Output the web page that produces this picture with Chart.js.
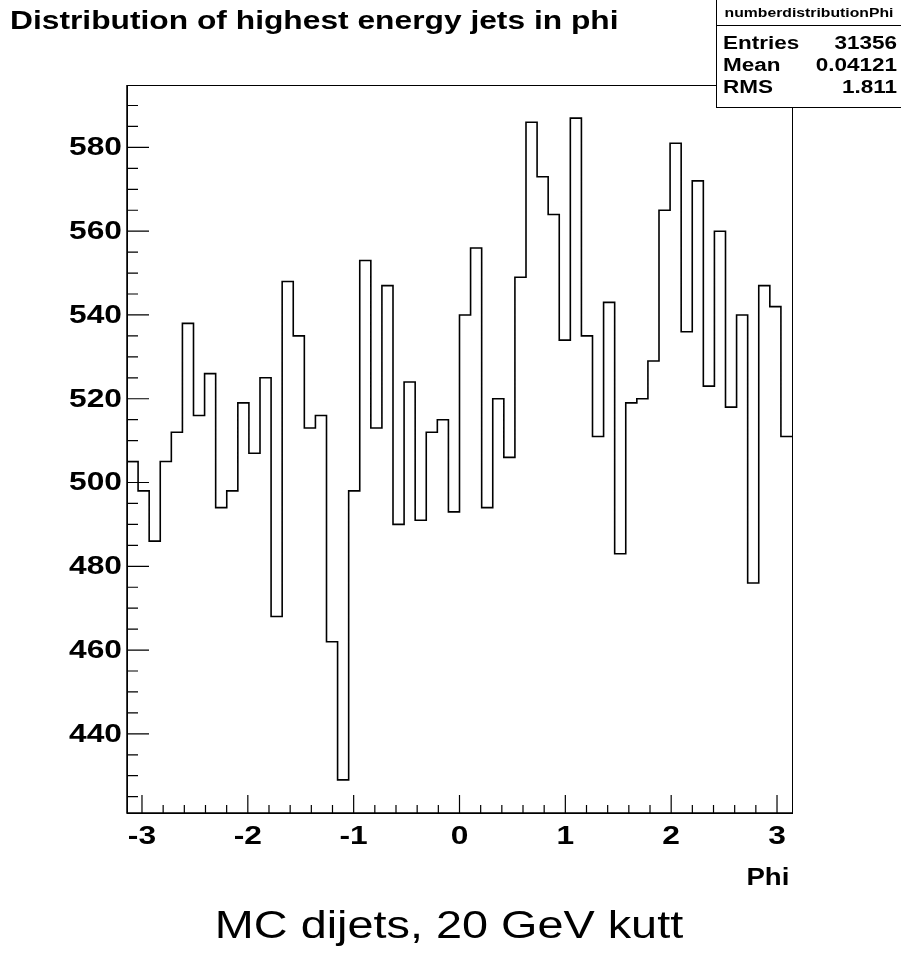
<!DOCTYPE html>
<html>
<head>
<meta charset="utf-8">
<script src="https://cdn.jsdelivr.net/npm/chart.js@4"></script>
<style>
  body { margin: 0; background: #fff; }
  #wrap { position: relative; width: 901px; height: 953px; font-family: 'Liberation Sans', Arial, sans-serif; }
  #c { position: absolute; left: 0; top: 0; }
  .t { position: absolute; white-space: nowrap; color: #000; line-height: 1; }
  #title { left: 10px; top: 8px; font-weight: bold; font-size: 25px; transform: scaleX(1.27); transform-origin: 0 50%; }
  #stats { position: absolute; left: 716px; top: 0; width: 184px; height: 107px; border: 1px solid #000; border-top: none; background: #fff; }
  #stats .hdr { position: absolute; left: 0; right: 0; top: 0; height: 25px; border-bottom: 1px solid #000; }
  #stats .hdr div { position: absolute; left: 0; right: 0; top: 7px; text-align: center; font-weight: bold; font-size: 12.6px; transform: scaleX(1.25); }
  #stats .l, #stats .v { position: absolute; font-weight: bold; font-size: 18px; transform: scaleX(1.25); }
  #stats .l { left: 6px; transform-origin: 0 50%; }
  #stats .v { right: 4px; transform-origin: 100% 50%; }
  #phi { right: 112px; top: 865px; font-weight: bold; font-size: 24px; transform: scaleX(1.15); transform-origin: 100% 50%; }
  #caption { left: 0; width: 898px; text-align: center; top: 906px; font-size: 38.7px; transform: scaleX(1.21); }
</style>
</head>
<body>
<div id="wrap">
  <canvas id="c" width="901" height="953"></canvas>
  <div class="t" id="title">Distribution of highest energy jets in phi</div>
  <div id="stats">
    <div class="hdr"><div class="t">numberdistributionPhi</div></div>
    <div class="t l" style="top:34px">Entries</div><div class="t v" style="top:34px">31356</div>
    <div class="t l" style="top:56px">Mean</div><div class="t v" style="top:56px">0.04121</div>
    <div class="t l" style="top:78px">RMS</div><div class="t v" style="top:78px">1.811</div>
  </div>
  <div class="t" id="phi">Phi</div>
  <div class="t" id="caption">MC dijets, 20 GeV kutt</div>
</div>
<script>
// 60 bins in phi from -pi to pi
var phiMin = -Math.PI;
var phiMax = Math.PI;
var counts = [
    505, 498, 486, 505, 512, 538, 516, 526, 494, 498,
    519, 507, 525, 468, 548, 535, 513, 516, 462, 429,
    498, 553, 513, 547, 490, 524, 491, 512, 515, 493,
    540, 556, 494, 520, 506, 549, 586, 573, 564, 534,
    587, 535, 511, 543, 483, 519, 520, 529, 565, 581,
    536, 572, 523, 560, 518, 540, 476, 547, 542, 511
];
var xTicks = [-3, -2, -1, 0, 1, 2, 3];
var yTicks = [440, 460, 480, 500, 520, 540, 560, 580];
var yMin = 421.1;
var yMax = 594.9;

var binWidth = (phiMax - phiMin) / counts.length;
var points = counts.map(function (v, i) {
    return { x: phiMin + i * binWidth, y: v };
});
points.push({ x: phiMax, y: counts[counts.length - 1] });

var labelFont = "bold 25px 'Liberation Sans', Arial, sans-serif";
var stretch = 1.27; // the labels in the picture are wide

// ROOT style frame, inward ticks and stretched tick labels
var frame = {
    id: 'frame',
    afterDatasetsDraw: function (chart) {
        var ctx = chart.ctx, a = chart.chartArea;
        var xs = chart.scales.x, ys = chart.scales.y;
        ctx.save();
        ctx.strokeStyle = '#000';
        ctx.lineWidth = 1;
        ctx.strokeRect(a.left + 0.5, a.top + 0.5, a.right - a.left, a.bottom - a.top);
        ctx.lineWidth = 1.5;
        ctx.beginPath();
        ctx.moveTo(a.left, a.top);
        ctx.lineTo(a.left, a.bottom);
        ctx.lineTo(a.right, a.bottom);
        ctx.stroke();
        ctx.lineWidth = 1.2;
        ctx.beginPath();
        for (var v = -3.2; v <= 3.2001; v += 0.2) {
            var t = Math.round(v * 10) / 10;
            if (t < phiMin || t > phiMax) continue;
            var px = xs.getPixelForValue(t);
            var len = Math.abs(t - Math.round(t)) < 1e-6 ? 18 : 8;
            ctx.moveTo(px, a.bottom);
            ctx.lineTo(px, a.bottom - len);
        }
        for (var y = 425; y <= yMax; y += 5) {
            var py = ys.getPixelForValue(y);
            var l = y % 20 === 0 ? 22 : 11;
            ctx.moveTo(a.left, py);
            ctx.lineTo(a.left + l, py);
        }
        ctx.stroke();

        ctx.fillStyle = '#000';
        ctx.font = labelFont;
        ctx.textBaseline = 'middle';
        ctx.textAlign = 'right';
        ys.ticks.forEach(function (tk) {
            ctx.save();
            ctx.translate(a.left - 5, ys.getPixelForValue(tk.value) + 1);
            ctx.scale(stretch, 1);
            ctx.fillText(tk.label != null ? tk.label : String(tk.value), 0, 0);
            ctx.restore();
        });
        ctx.textAlign = 'center';
        xs.ticks.forEach(function (tk) {
            ctx.save();
            ctx.translate(xs.getPixelForValue(tk.value), a.bottom + 24);
            ctx.scale(stretch, 1);
            ctx.fillText(tk.label != null ? tk.label : String(tk.value), 0, 0);
            ctx.restore();
        });
        ctx.restore();
    }
};

new Chart(document.getElementById('c'), {
    type: 'line',
    data: {
        datasets: [{
            data: points,
            stepped: 'before',
            borderColor: '#000',
            borderWidth: 1.6,
            pointRadius: 0,
            fill: false
        }]
    },
    options: {
        responsive: false,
        animation: false,
        layout: { padding: { left: 0, top: 85, right: 109, bottom: 0 } },
        plugins: { legend: { display: false }, tooltip: { enabled: false } },
        scales: {
            x: {
                type: 'linear',
                min: phiMin,
                max: phiMax,
                grid: { display: false, drawTicks: false },
                border: { display: false },
                afterBuildTicks: function (s) { s.ticks = xTicks.map(function (v) { return { value: v }; }); },
                afterFit: function (s) { s.height = 140; },
                ticks: { display: false, callback: function (v) { return String(v); } }
            },
            y: {
                min: yMin,
                max: yMax,
                grid: { display: false, drawTicks: false },
                border: { display: false },
                afterBuildTicks: function (s) { s.ticks = yTicks.map(function (v) { return { value: v }; }); },
                afterFit: function (s) { s.width = 127; },
                ticks: { display: false }
            }
        }
    },
    plugins: [frame]
});
</script>
</body>
</html>
